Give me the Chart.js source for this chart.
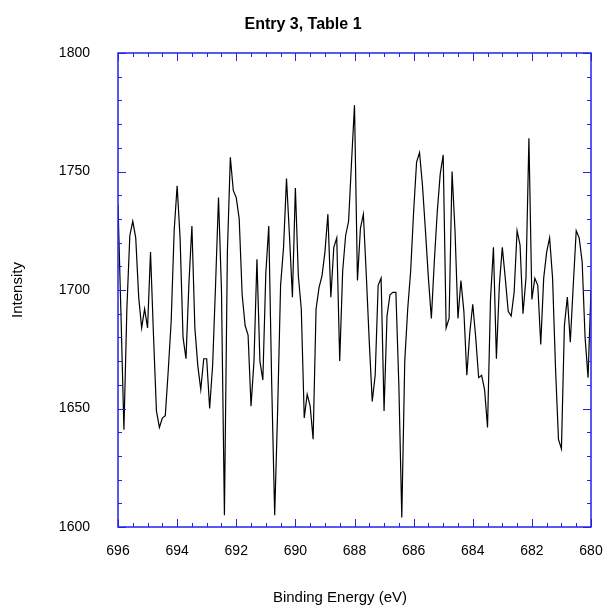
<!DOCTYPE html>
<html>
<head>
<meta charset="utf-8">
<script src="https://cdn.jsdelivr.net/npm/chart.js@4/dist/chart.umd.min.js"></script>
<style>
  html, body { margin: 0; padding: 0; background: #fff; }
  #wrap { width: 608px; height: 608px; }
</style>
</head>
<body>
<div id="wrap"><canvas id="myChart" width="608" height="608"></canvas></div>
<script>
// spectrum sampled every 0.1 eV from 696 down to 680
const energyStart = 696;
const energyStep = -0.1;
const intensity = [
  1736, 1690, 1641, 1692, 1723, 1729, 1722, 1697, 1684, 1692,
  1684, 1716, 1681, 1649, 1642, 1646, 1647, 1666, 1687, 1725,
  1744, 1722, 1680, 1671, 1703, 1727, 1684, 1668, 1658, 1671,
  1671, 1650, 1668, 1702, 1739, 1700, 1605, 1716, 1756, 1742,
  1739, 1730, 1698, 1685, 1681, 1651, 1670, 1713, 1670, 1662,
  1707, 1727, 1660, 1605, 1649, 1702, 1718, 1747, 1723, 1697,
  1743, 1706, 1692, 1646, 1656, 1651, 1637, 1692, 1701, 1706,
  1716, 1732, 1697, 1718, 1722, 1670, 1708, 1723, 1729, 1754,
  1778, 1704, 1726, 1732, 1706, 1678, 1653, 1664, 1702, 1705,
  1649, 1689, 1698, 1699, 1699, 1660, 1604, 1670, 1692, 1708,
  1733, 1754, 1758, 1744, 1725, 1705, 1688, 1712, 1733, 1749,
  1757, 1684, 1688, 1750, 1725, 1688, 1704, 1691, 1664, 1682,
  1694, 1680, 1663, 1664, 1658, 1642, 1696, 1718, 1671, 1702,
  1718, 1705, 1691, 1689, 1699, 1725, 1719, 1690, 1705, 1764,
  1696, 1705, 1702, 1677, 1705, 1716, 1722, 1705, 1667, 1637,
  1633, 1685, 1697, 1678, 1702, 1725, 1722, 1712, 1680, 1663,
  1700
];
const xTicks = [696, 694, 692, 690, 688, 686, 684, 682, 680];
const yTicks = [1600, 1650, 1700, 1750, 1800];

const points = intensity.map((v, i) => ({ x: +(energyStart + i * energyStep).toFixed(1), y: v }));

const frameBlue = "#2222ee";
const fontFam = "'Liberation Sans', Arial, sans-serif";

// inward ticks on all four sides + titles
const decor = {
  id: "decor",
  afterDraw(chart) {
    const ctx = chart.ctx;
    const a = chart.chartArea;
    const xs = chart.scales.x, ys = chart.scales.y;
    ctx.save();
    ctx.strokeStyle = frameBlue;
    ctx.lineWidth = 1;
    ctx.beginPath();
    for (let e = 680; e <= 696; e += 0.5) {
      const px = Math.round(xs.getPixelForValue(e)) + 0.5;
      const len = (e % 2 === 0) ? 8 : 4;
      ctx.moveTo(px, a.bottom); ctx.lineTo(px, a.bottom - len);
      ctx.moveTo(px, a.top); ctx.lineTo(px, a.top + len);
    }
    for (let v = 1600; v <= 1800; v += 10) {
      const py = Math.round(ys.getPixelForValue(v)) + 0.5;
      const len = (v % 50 === 0) ? 8 : 4;
      ctx.moveTo(a.left, py); ctx.lineTo(a.left + len, py);
      ctx.moveTo(a.right, py); ctx.lineTo(a.right - len, py);
    }
    ctx.stroke();
    ctx.lineWidth = 1.5;
    ctx.strokeRect(a.left, a.top, a.right - a.left, a.bottom - a.top);

    ctx.fillStyle = "#000";
    ctx.textAlign = "center";
    ctx.textBaseline = "middle";
    ctx.font = "bold 16px " + fontFam;
    ctx.fillText("Entry 3, Table 1", 303, 25);
    ctx.font = "15px " + fontFam;
    ctx.fillText("Binding Energy (eV)", 340, 598);
    ctx.translate(18, 290);
    ctx.rotate(-Math.PI / 2);
    ctx.fillText("Intensity", 0, 0);
    ctx.restore();
  }
};

new Chart(document.getElementById("myChart"), {
  type: "line",
  data: {
    datasets: [{
      data: points,
      borderColor: "#000",
      borderWidth: 1.2,
      pointRadius: 0,
      tension: 0,
      fill: false
    }]
  },
  options: {
    responsive: false,
    animation: false,
    layout: { padding: { left: 0, top: 53, right: 17, bottom: 0 } },
    plugins: { legend: { display: false }, tooltip: { enabled: false } },
    scales: {
      x: {
        type: "linear",
        reverse: true,
        min: 680,
        max: 696,
        afterFit: (s) => { s.height = 81; s.paddingLeft = 0; s.paddingRight = 0; },
        afterBuildTicks: (s) => { s.ticks = xTicks.map(v => ({ value: v })); },
        grid: { display: false },
        border: { display: false },
        ticks: { color: "#000", padding: 8, maxRotation: 0, font: { family: fontFam, size: 14 },
                 callback: (v) => String(v) }
      },
      y: {
        min: 1600,
        max: 1800,
        afterFit: (s) => { s.width = 118; s.paddingTop = 0; s.paddingBottom = 0; },
        afterBuildTicks: (s) => { s.ticks = yTicks.map(v => ({ value: v })); },
        grid: { display: false },
        border: { display: false },
        ticks: { color: "#000", padding: 20, font: { family: fontFam, size: 14 },
                 callback: (v) => String(v) }
      }
    }
  },
  plugins: [decor]
});
</script>
</body>
</html>
